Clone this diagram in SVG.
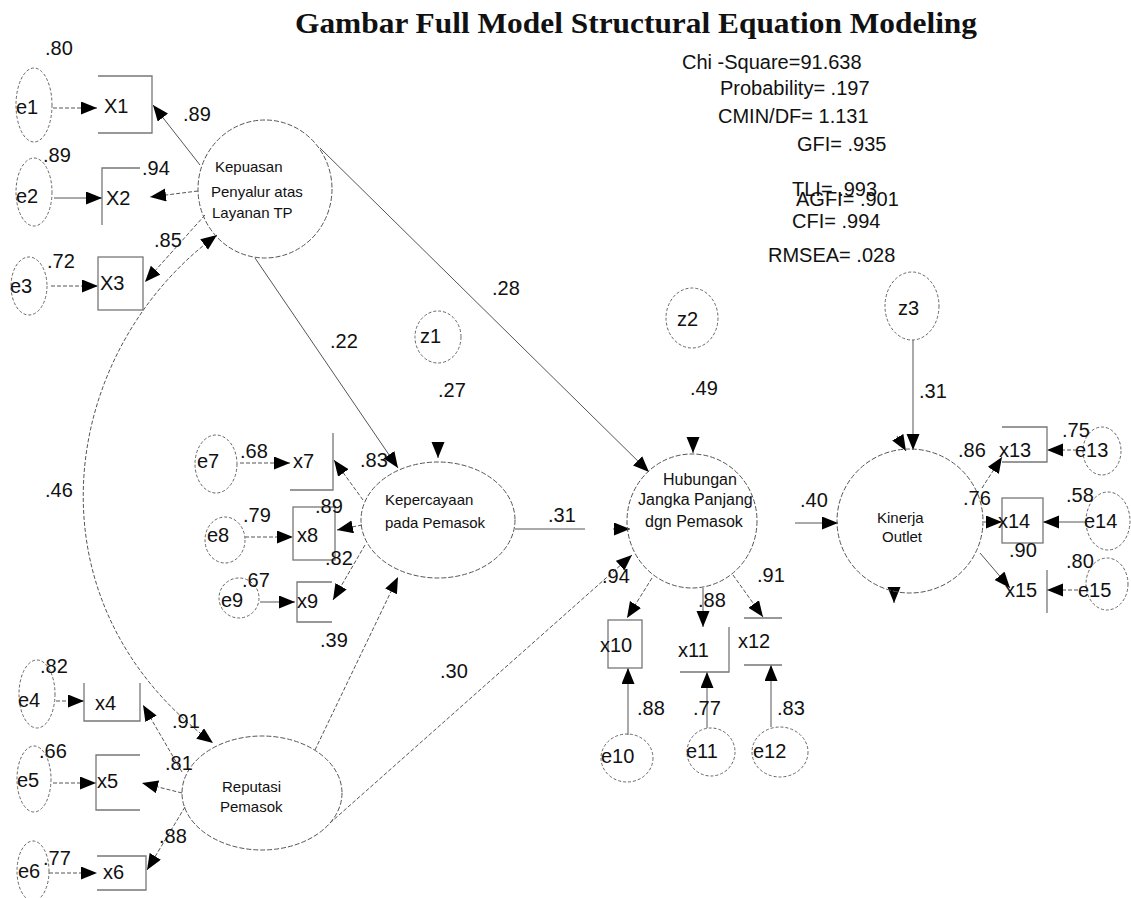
<svg xmlns="http://www.w3.org/2000/svg" width="1131" height="898" viewBox="0 0 1131 898">
<style>
text{font-family:"Liberation Sans",Arial,sans-serif;fill:#111;}
.lb{font-size:20px;}
.nt{font-size:20px;}
.lt{font-size:15px;}
.st{font-size:20px;}
.title{font-family:"Liberation Serif","Times New Roman",serif;font-weight:bold;font-size:30px;}
.err{fill:none;stroke:#666;stroke-width:1;stroke-dasharray:3 2;}
.lat{fill:none;stroke:#555;stroke-width:1;stroke-dasharray:5 2;}
.box{fill:none;stroke:#777;stroke-width:1.3;}
.c{fill:none;stroke:#555;stroke-width:1;marker-end:url(#arr);}
.d{stroke-dasharray:4 2;}
</style>
<defs>
<marker id="arr" markerUnits="userSpaceOnUse" markerWidth="17" markerHeight="14" refX="16" refY="6.5" orient="auto"><path d="M0,0 L16,6.5 L0,13 z" fill="#000"/></marker>
<marker id="arr2" markerUnits="userSpaceOnUse" markerWidth="17" markerHeight="14" refX="16" refY="6.5" orient="auto-start-reverse"><path d="M0,0 L16,6.5 L0,13 z" fill="#000"/></marker>
</defs>
<rect width="1131" height="898" fill="#fff"/>
<text class="title" x="295" y="33" textLength="682" lengthAdjust="spacingAndGlyphs">Gambar Full Model Structural Equation Modeling</text>
<g id="fit">
<text class="st" x="682" y="69">Chi -Square=91.638</text>
<text class="st" x="720" y="95">Probability= .197</text>
<text class="st" x="718" y="123">CMIN/DF= 1.131</text>
<text class="st" x="797" y="151">GFI= .935</text>
<text class="st" x="792" y="196">TLI= .993</text>
<text class="st" x="796" y="206">AGFI= .901</text>
<text class="st" x="792" y="228">CFI= .994</text>
<text class="st" x="768" y="262">RMSEA= .028</text>
</g>
<g id="connectors">
<path class="c d" d="M53 108 L97 108"/>
<path class="c" d="M54 198 L102 198"/>
<path class="c d" d="M51 286 L98 286"/>
<path class="c" d="M200 165 L153 105"/>
<path class="c d" d="M198 191 L150 197"/>
<path class="c d" d="M205 215 L145 282"/>
<path class="c d" d="M217 235 C60 350 20 600 213 743" marker-start="url(#arr2)" marker-end="url(#arr2)"/>
<path class="c" d="M255 258 L398 468"/>
<path class="c" d="M320 148 L649 472"/>
<path class="c d" d="M240 463 L290 463"/>
<path class="c d" d="M245 537 L293 537"/>
<path class="c" d="M260 602 L295 602"/>
<path class="c d" d="M363 500 L334 460"/>
<path class="c d" d="M362 525 L337 530"/>
<path class="c d" d="M365 545 L333 600"/>
<path class="c" d="M438 442 L438 458"/>
<path fill="none" stroke="#555" stroke-width="1" d="M515 529 L585 529"/>
<path class="c" d="M613 529 L630 529"/>
<path class="c d" d="M315 750 L398 577"/>
<path class="c d" d="M330 823 L632 555"/>
<path class="c d" d="M652 578 L627 618"/>
<path class="c" d="M703 588 L703 627"/>
<path class="c d" d="M733 575 L763 617"/>
<path class="c" d="M628 735 L628 668"/>
<path class="c" d="M707 728 L707 672"/>
<path class="c" d="M771 727 L771 665"/>
<path class="c" d="M693 437 L693 453"/>
<path class="c" d="M795 523 L838 523"/>
<path class="c" d="M913 340 L913 450"/>
<path class="c" d="M897 436 L906 451"/>
<path class="c" d="M894 587 L894 603"/>
<path class="c d" d="M982 488 L1002 457"/>
<path class="c" d="M984 522 L1002 522"/>
<path class="c" d="M980 553 L1010 588"/>
<path class="c d" d="M1077 450 L1047 450"/>
<path class="c" d="M1085 522 L1043 522"/>
<path class="c d" d="M1078 590 L1047 590"/>
<path class="c d" d="M56 701 L84 701"/>
<path class="c d" d="M53 783 L96 783"/>
<path class="c d" d="M49 873 L97 873"/>
<path class="c d" d="M182 772 L143 705"/>
<path class="c d" d="M182 793 L142 783"/>
<path class="c d" d="M185 807 L147 870"/>
</g>
<g id="e1"><ellipse class="err" cx="34" cy="105" rx="18" ry="37"/><text class="nt" x="16" y="114">e1</text></g>
<g id="X1"><path class="box" d="M98 76 H152 V133 H98"/><text class="nt" x="104" y="113">X1</text></g>
<g id="e2"><ellipse class="err" cx="34" cy="192" rx="18" ry="34"/><text class="nt" x="16" y="203">e2</text></g>
<g id="X2"><path class="box" d="M140 168 H102 V225"/><text class="nt" x="106" y="205">X2</text></g>
<g id="e3"><ellipse class="err" cx="29" cy="286" rx="18" ry="29"/><text class="nt" x="10" y="293">e3</text></g>
<g id="X3"><rect class="box" x="98" y="257" width="45" height="53"/><text class="nt" x="100" y="290">X3</text></g>
<g id="Kepuasan"><ellipse class="lat" cx="265" cy="189" rx="67" ry="69"/>
<text class="lt" x="215" y="172">Kepuasan</text><text class="lt" x="211" y="197">Penyalur atas</text><text class="lt" x="212" y="218">Layanan TP</text></g>
<g id="e4"><ellipse class="err" cx="37" cy="694" rx="18" ry="34"/><text class="nt" x="18" y="707">e4</text></g>
<g id="x4"><path class="box" d="M84 683 V721 H140 V683"/><text class="nt" x="95" y="710">x4</text></g>
<g id="e5"><ellipse class="err" cx="34" cy="779" rx="17" ry="33"/><text class="nt" x="17" y="787">e5</text></g>
<g id="x5"><path class="box" d="M140 755 H96 V810 H140"/><text class="nt" x="97" y="788">x5</text></g>
<g id="e6"><ellipse class="err" cx="33" cy="871" rx="16" ry="30"/><text class="nt" x="18" y="878">e6</text></g>
<g id="x6"><path class="box" d="M97 856 H146 V890 H97"/><text class="nt" x="103" y="879">x6</text></g>
<g id="Reputasi"><ellipse class="lat" cx="262" cy="793" rx="80" ry="57"/>
<text class="lt" x="222" y="792">Reputasi</text><text class="lt" x="220" y="812">Pemasok</text></g>
<g id="e7"><ellipse class="err" cx="216" cy="464" rx="21" ry="29"/><text class="nt" x="197" y="468">e7</text></g>
<g id="x7"><path class="box" d="M333 433 V490 H290"/><text class="nt" x="293" y="468">x7</text></g>
<g id="e8"><ellipse class="err" cx="225" cy="540" rx="20" ry="23"/><text class="nt" x="207" y="542">e8</text></g>
<g id="x8"><rect class="box" x="293" y="507" width="42" height="53"/><text class="nt" x="297" y="542">x8</text></g>
<g id="e9"><ellipse class="err" cx="239" cy="598" rx="20" ry="20"/><text class="nt" x="221" y="607">e9</text></g>
<g id="x9"><path class="box" d="M332 582 H297 V622 H332"/><text class="nt" x="297" y="608">x9</text></g>
<g id="z1"><ellipse class="err" cx="438" cy="337" rx="23" ry="26"/><text class="nt" x="420" y="343">z1</text></g>
<g id="Kepercayaan"><ellipse class="lat" cx="438" cy="520" rx="77" ry="58"/>
<text class="lt" x="385" y="505">Kepercayaan</text><text class="lt" x="385" y="528">pada Pemasok</text></g>
<g id="z2"><ellipse class="err" cx="692" cy="318" rx="26" ry="30"/><text class="nt" x="677" y="326">z2</text></g>
<g id="Hubungan"><ellipse class="lat" cx="692" cy="521" rx="65" ry="67"/>
<text class="lt" style="font-size:16px" x="663" y="485">Hubungan</text><text class="lt" style="font-size:16px" x="638" y="505">Jangka Panjang</text><text class="lt" style="font-size:16px" x="645" y="527">dgn Pemasok</text></g>
<g id="x10"><rect class="box" x="608" y="620" width="34" height="48"/><text class="nt" x="600" y="652">x10</text></g>
<g id="x11"><path class="box" d="M729 627 V672 H680"/><text class="nt" x="678" y="657">x11</text></g>
<g id="x12"><path class="box" d="M744 618 H782 M744 665 H782"/><text class="nt" x="738" y="648">x12</text></g>
<g id="e10"><ellipse class="err" cx="627" cy="758" rx="26" ry="24"/><text class="nt" x="601" y="763">e10</text></g>
<g id="e11"><ellipse class="err" cx="711" cy="752" rx="24" ry="24"/><text class="nt" x="686" y="758">e11</text></g>
<g id="e12"><ellipse class="err" cx="780" cy="752" rx="28" ry="25"/><text class="nt" x="753" y="758">e12</text></g>
<g id="z3"><ellipse class="err" cx="912" cy="306" rx="27" ry="34"/><text class="nt" x="898" y="315">z3</text></g>
<g id="Kinerja"><ellipse class="lat" cx="910" cy="521" rx="73" ry="72"/>
<text class="lt" x="877" y="523">Kinerja</text><text class="lt" x="882" y="542">Outlet</text></g>
<g id="x13"><path class="box" d="M1002 427 H1047 V462 H1002"/><text class="nt" x="999" y="457">x13</text></g>
<g id="e13"><ellipse class="err" cx="1102" cy="451" rx="19" ry="24"/><text class="nt" x="1075" y="457">e13</text></g>
<g id="x14"><rect class="box" x="1002" y="498" width="41" height="45"/><text class="nt" x="998" y="528">x14</text></g>
<g id="e14"><ellipse class="err" cx="1108" cy="521" rx="22" ry="29"/><text class="nt" x="1084" y="528">e14</text></g>
<g id="x15"><path class="box" d="M1047 570 V613"/><text class="nt" x="1005" y="597">x15</text></g>
<g id="e15"><ellipse class="err" cx="1107" cy="584" rx="21" ry="26"/><text class="nt" x="1078" y="597">e15</text></g>
<g id="labels">
<text class="lb" x="45" y="55">.80</text>
<text class="lb" x="183" y="121">.89</text>
<text class="lb" x="43" y="162">.89</text>
<text class="lb" x="142" y="175">.94</text>
<text class="lb" x="47" y="268">.72</text>
<text class="lb" x="154" y="247">.85</text>
<text class="lb" x="45" y="497">.46</text>
<text class="lb" x="40" y="673">.82</text>
<text class="lb" x="172" y="728">.91</text>
<text class="lb" x="39" y="758">.66</text>
<text class="lb" x="165" y="770">.81</text>
<text class="lb" x="159" y="843">.88</text>
<text class="lb" x="43" y="865">.77</text>
<text class="lb" x="330" y="348">.22</text>
<text class="lb" x="438" y="397">.27</text>
<text class="lb" x="492" y="295">.28</text>
<text class="lb" x="240" y="458">.68</text>
<text class="lb" x="360" y="467">.83</text>
<text class="lb" x="243" y="522">.79</text>
<text class="lb" x="315" y="513">.89</text>
<text class="lb" x="325" y="565">.82</text>
<text class="lb" x="242" y="587">.67</text>
<text class="lb" x="320" y="647">.39</text>
<text class="lb" x="440" y="678">.30</text>
<text class="lb" x="602" y="583">.94</text>
<text class="lb" x="548" y="522">.31</text>
<text class="lb" x="690" y="395">.49</text>
<text class="lb" x="800" y="507">.40</text>
<text class="lb" x="698" y="607">.88</text>
<text class="lb" x="757" y="582">.91</text>
<text class="lb" x="637" y="715">.88</text>
<text class="lb" x="693" y="715">.77</text>
<text class="lb" x="777" y="715">.83</text>
<text class="lb" x="919" y="398">.31</text>
<text class="lb" x="958" y="457">.86</text>
<text class="lb" x="1062" y="437">.75</text>
<text class="lb" x="963" y="505">.76</text>
<text class="lb" x="1066" y="502">.58</text>
<text class="lb" x="1009" y="557">.90</text>
<text class="lb" x="1066" y="568">.80</text>
</g>
</svg>
